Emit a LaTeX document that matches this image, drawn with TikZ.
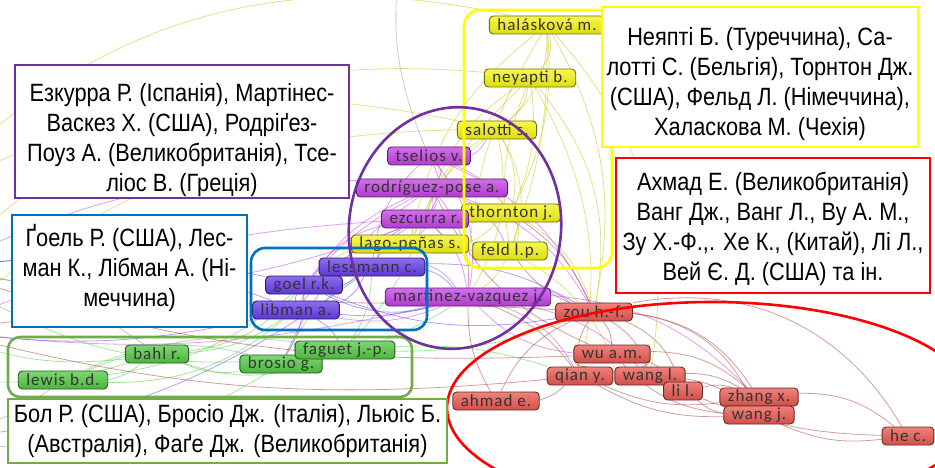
\documentclass[tikz,border=0pt]{standalone}
\usepackage{fontspec}
\newfontfamily\vosfont[LetterSpace=6]{Carlito}
\newfontfamily\boxfont[FakeStretch=0.87]{Liberation Sans}
\usetikzlibrary{backgrounds}

\definecolor{vosyellow}{RGB}{245,245,20}
\definecolor{vospurple}{RGB}{196,64,228}
\definecolor{vosviolet}{RGB}{104,60,236}
\definecolor{vosgreen}{RGB}{84,200,68}
\definecolor{vosred}{RGB}{234,88,80}
\definecolor{boxpurple}{RGB}{112,48,160}
\definecolor{boxblue}{RGB}{0,112,192}
\definecolor{boxgreen}{RGB}{112,173,71}
\definecolor{boxyellow}{RGB}{255,255,0}
\definecolor{boxred}{RGB}{255,0,0}

\begin{document}
\begin{tikzpicture}[
            x=1pt, y=-1pt,
            vos/.style={draw=#1!45!black, top color=#1!75!white, bottom color=#1!90!black,
                rounded corners=4pt, line width=0.9pt, inner xsep=8pt, inner ysep=0pt,
                minimum height=18pt, text=black!80, font=\vosfont\fontsize{17}{17}\selectfont},
            edge/.style={draw=#1, line width=0.8pt, opacity=0.5},
            cluster/.style={draw=#1, line width=2.6pt},
            tbox/.style={draw=#1, fill=white, line width=2.6pt, inner sep=0pt},
            ttext/.style={align=center, inner sep=0pt, font=\boxfont\fontsize{25}{30}\selectfont},
            ]
            \useasboundingbox (0,0) rectangle (935,468);
            \clip (0,0) rectangle (935,468);

            % yellow cluster
            \node[vos=vosyellow] (halaskova) at (547,25) {halásková m.};
            \node[vos=vosyellow] (neyapti) at (530,78) {neyapti b.};
            \node[vos=vosyellow] (salotti) at (497,130) {salotti s.};
            \node[vos=vosyellow] (thornton) at (511,213) {thornton j.};
            \node[vos=vosyellow] (feld) at (510,251) {feld l.p.};
            \node[vos=vosyellow] (lagopenas) at (410,244) {lago-peñas s.};
            % purple cluster
            \node[vos=vospurple] (tselios) at (429,156) {tselios v.};
            \node[vos=vospurple] (rodriguez) at (432,188) {rodríguez-pose a.};
            \node[vos=vospurple] (ezcurra) at (425,219) {ezcurra r.};
            \node[vos=vospurple] (martinez) at (468,297) {martinez-vazquez j.};
            % blue cluster
            \node[vos=vosviolet] (lessmann) at (372,267) {lessmann c.};
            \node[vos=vosviolet] (goel) at (304,285) {goel r.k.};
            \node[vos=vosviolet] (libman) at (296,310) {libman a.};
            % red cluster
            \node[vos=vosred] (zou) at (594,312) {zou h.-f.};
            \node[vos=vosred] (wu) at (612,354) {wu a.m.};
            \node[vos=vosred] (qian) at (580,376) {qian y.};
            \node[vos=vosred] (wangl) at (650,376) {wang l.};
            \node[vos=vosred] (lil) at (683,391) {li l.};
            \node[vos=vosred] (zhang) at (759,397) {zhang x.};
            \node[vos=vosred] (wangj) at (759,415) {wang j.};
            \node[vos=vosred] (ahmad) at (496,401) {ahmad e.};
            \node[vos=vosred] (hec) at (908,436) {he c.};
            % green cluster
            \node[vos=vosgreen] (bahl) at (157,354) {bahl r.};
            \node[vos=vosgreen] (lewis) at (63,380) {lewis b.d.};
            \node[vos=vosgreen] (brosio) at (281,364) {brosio g.};
            \node[vos=vosgreen] (faguet) at (345,350) {faguet j.-p.};

            \coordinate (w1) at (-60,270);
            \coordinate (w2) at (-60,330);
            \coordinate (w3) at (-60,440);
            \coordinate (w4) at (-80,200);
            \coordinate (w5) at (-40,380);
            \coordinate (t1) at (400,-40);

            \begin{pgfonlayer}{background}
            \foreach \a/\b/\n in {halaskova/salotti/25, halaskova/thornton/15, halaskova/feld/10,
                    halaskova/lagopenas/-20, halaskova/zou/20, halaskova/wangl/25, halaskova/martinez/-15,
                    neyapti/salotti/20, neyapti/thornton/15, neyapti/feld/-15, neyapti/ezcurra/-20,
                    neyapti/zou/25, neyapti/qian/20, salotti/thornton/20, salotti/feld/25,
                    salotti/lagopenas/-15, salotti/martinez/20, thornton/feld/30, thornton/zou/20,
                    feld/martinez/15, lagopenas/ezcurra/20, lagopenas/goel/-15, salotti/w4/-20,
                    neyapti/w1/-25, halaskova/w4/-30, halaskova/neyapti/30, neyapti/lagopenas/-10,
                    salotti/ezcurra/-20, thornton/lagopenas/15, feld/wu/15, salotti/w2/-20}
                \draw[edge=vosyellow!80!black] (\a) to[bend left=\n] (\b);
            \foreach \a/\b/\n in {rodriguez/ezcurra/30, rodriguez/martinez/20, rodriguez/tselios/-40,
                    rodriguez/lagopenas/25, ezcurra/martinez/20, ezcurra/lessmann/-15, tselios/martinez/25,
                    martinez/zou/15, martinez/qian/20, martinez/wangl/15, rodriguez/zou/20,
                    rodriguez/libman/-20, ezcurra/goel/-20, tselios/lessmann/-20, tselios/salotti/-20,
                    rodriguez/w1/-15, ezcurra/w2/-10, martinez/zhang/20, rodriguez/feld/20,
                    tselios/thornton/15, tselios/ezcurra/30, ezcurra/libman/-15, martinez/lessmann/-20,
                    martinez/libman/15, rodriguez/goel/-10, ezcurra/feld/-20, tselios/zou/20,
                    martinez/wu/-20, martinez/w2/10, ezcurra/w1/15, rodriguez/brosio/-15}
                \draw[edge=vospurple] (\a) to[bend left=\n] (\b);
            \draw[edge=black!40] (tselios) to[bend left=15] (t1);
            \foreach \a/\b/\n in {lessmann/goel/15, lessmann/libman/20, goel/libman/-20,
                    lessmann/martinez/15, goel/brosio/15, libman/faguet/15, lessmann/zou/15,
                    libman/w2/10, goel/w1/-10, lessmann/w3/15, goel/martinez/-20, libman/martinez/-10,
                    lessmann/ezcurra/20, goel/zou/-15, libman/w1/-15}
                \draw[edge=vosviolet] (\a) to[bend left=\n] (\b);
            \foreach \a/\b/\n in {bahl/lewis/15, bahl/brosio/-15, bahl/faguet/-20, lewis/brosio/20,
                    lewis/faguet/15, brosio/faguet/20, faguet/lessmann/-15, bahl/goel/-20,
                    lewis/w3/10, bahl/w2/15, brosio/martinez/-10, faguet/zou/-10, bahl/libman/-15,
                    lewis/libman/-20, faguet/w1/20, brosio/w3/20, bahl/w5/10, lewis/goel/-15,
                    faguet/ezcurra/-10, brosio/lessmann/15, bahl/w1/-15, faguet/qian/10}
                \draw[edge=vosgreen] (\a) to[bend left=\n] (\b);
            \foreach \a/\b/\n in {zou/wu/20, zou/qian/-20, zou/wangl/20, zou/lil/25, zou/zhang/25,
                    zou/wangj/30, zou/hec/35, wu/qian/-20, wu/wangl/20, wu/zhang/20, qian/wangl/15,
                    qian/lil/15, qian/zhang/-15, qian/wangj/-15, wangl/lil/20, wangl/zhang/15,
                    lil/zhang/15, lil/wangj/-15, zhang/wangj/30, wangj/hec/-15, zhang/hec/20,
                    ahmad/qian/-15, ahmad/zou/20, ahmad/martinez/15, qian/martinez/-15,
                    wu/rodriguez/20, zou/feld/15, zou/thornton/-15, wu/w1/10, qian/w2/10,
                    wu/wangj/-20, wangl/wangj/15, lil/hec/-10, wu/lil/15, zou/w2/-5}
                \draw[edge=vosred!70!black] (\a) to[bend left=\n] (\b);
            \end{pgfonlayer}

            % cluster outlines
            \draw[cluster=boxyellow, rounded corners=16pt] (464,10) rectangle (612,268);
            \draw[cluster=boxblue, rounded corners=14pt] (251,248) rectangle (427,330);
            \draw[cluster=boxgreen, rounded corners=12pt] (8,337) rectangle (412,397);
            \draw[cluster=boxpurple, rotate around={-7:(455,228)}] (455,228) ellipse [x radius=106, y radius=121];
            \draw[cluster=boxred] (712,408) ellipse [x radius=265, y radius=106];

            % country captions
            \node[tbox=boxyellow, minimum width=316pt, minimum height=140pt] (yellowbox) at (760,77) {};
            \node[ttext] (yellowtext) at ([yshift=-7pt]yellowbox.center)
                {Неяпті Б. (Туреччина), Са-\\лотті С. (Бельгія), Торнтон Дж.\\(США), Фельд Л. (Німеччина),\\Халаскова М. (Чехія)};
            \node[tbox=boxred, minimum width=314pt, minimum height=135pt] (redbox) at (773,225.5) {};
            \node[ttext] (redtext) at ([yshift=-3pt]redbox.center)
                {Ахмад Е. (Великобританія)\\Ванг Дж., Ванг Л., Ву А. М.,\\Зу Х.-Ф.,. Хе К., (Китай), Лі Л.,\\Вей Є. Д. (США) та ін.};
            \node[tbox=boxpurple, minimum width=334pt, minimum height=133pt] (purplebox) at (182,131.5) {};
            \node[ttext] (purpletext) at ([yshift=-9pt]purplebox.center)
                {Езкурра Р. (Іспанія), Мартінес-\\Васкез Х. (США), Родріґез-\\Поуз А. (Великобританія), Тсе-\\ліос В. (Греція)};
            \node[tbox=boxblue, minimum width=235pt, minimum height=112pt] (bluebox) at (129.5,271) {};
            \node[ttext] (bluetext) at ([yshift=3pt]bluebox.center)
                {Ґоель Р. (США), Лес-\\ман К., Лібман А. (Ні-\\меччина)};
            \node[tbox=boxgreen, minimum width=439pt, minimum height=64pt] (greenbox) at (227.5,431) {};
            \node[ttext] (greentext) at (greenbox.center)
                {Бол Р. (США), Бросіо Дж. (Італія), Льюіс Б.\\(Австралія), Фаґе Дж. (Великобританія)};
        \end{tikzpicture}
\end{document}
